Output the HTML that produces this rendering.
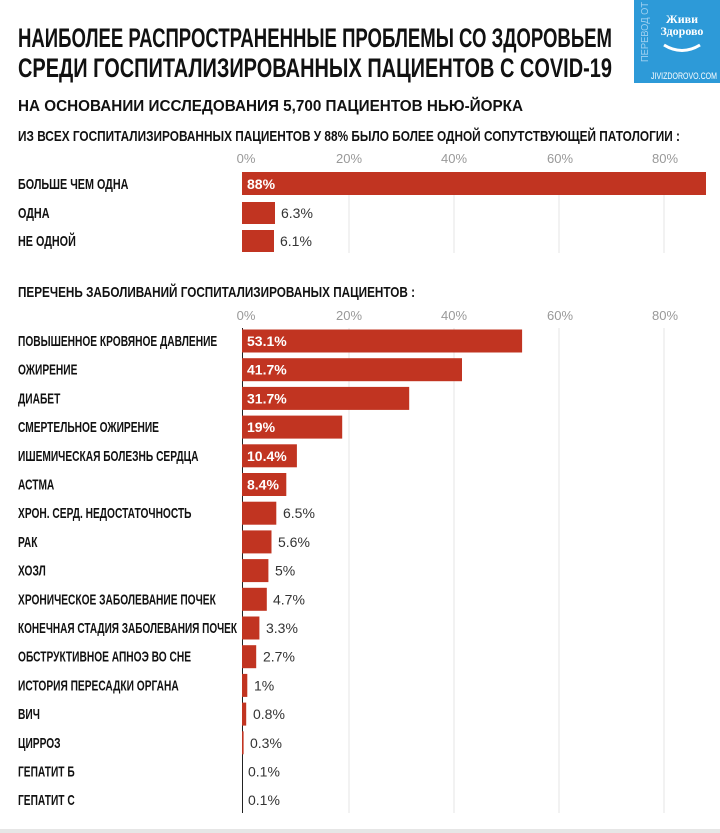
<!DOCTYPE html>
<html><head><meta charset="utf-8"><style>
html,body{margin:0;padding:0;background:#fff;width:720px;height:833px;overflow:hidden}
svg{display:block}
</style></head><body>
<svg width="720" height="833" viewBox="0 0 720 833" xmlns="http://www.w3.org/2000/svg" font-family="Liberation Sans, sans-serif">
<!-- logo -->
<rect x="634" y="0" width="86" height="83" fill="#2d9ad8"/>
<text transform="translate(648,62) rotate(-90)" font-size="10" fill="#9fd0f0" textLength="60" lengthAdjust="spacingAndGlyphs">ПЕРЕВОД ОТ</text>
<text x="682" y="23" font-size="12" font-weight="bold" fill="#fff" text-anchor="middle" font-family="Liberation Serif, serif">Живи</text>
<text x="682" y="35" font-size="12" font-weight="bold" fill="#fff" text-anchor="middle" font-family="Liberation Serif, serif">Здорово</text>
<path d="M664 45 Q682 56 700 45" stroke="#fff" stroke-width="3" fill="none"/>
<text x="651" y="79" font-size="9" fill="#fff" textLength="66" lengthAdjust="spacingAndGlyphs">JIVIZDOROVO.COM</text>

<!-- titles -->
<text x="18" y="47" font-size="27" font-weight="bold" fill="#111" textLength="594" lengthAdjust="spacingAndGlyphs">НАИБОЛЕЕ РАСПРОСТРАНЕННЫЕ ПРОБЛЕМЫ СО ЗДОРОВЬЕМ</text>
<text x="18" y="77" font-size="27" font-weight="bold" fill="#111" textLength="594" lengthAdjust="spacingAndGlyphs">СРЕДИ ГОСПИТАЛИЗИРОВАННЫХ ПАЦИЕНТОВ С COVID-19</text>
<text x="18" y="111" font-size="16" font-weight="bold" fill="#111" textLength="505" lengthAdjust="spacingAndGlyphs">НА ОСНОВАНИИ ИССЛЕДОВАНИЯ 5,700 ПАЦИЕНТОВ НЬЮ-ЙОРКА</text>
<text x="18" y="141" font-size="15" font-weight="bold" fill="#111" textLength="662" lengthAdjust="spacingAndGlyphs">ИЗ ВСЕХ ГОСПИТАЛИЗИРОВАННЫХ ПАЦИЕНТОВ У 88% БЫЛО БОЛЕЕ ОДНОЙ СОПУТСТВУЮЩЕЙ ПАТОЛОГИИ :</text>
<text x="18" y="297" font-size="15" font-weight="bold" fill="#111" textLength="397" lengthAdjust="spacingAndGlyphs">ПЕРЕЧЕНЬ ЗАБОЛИВАНИЙ ГОСПИТАЛИЗИРОВАНЫХ ПАЦИЕНТОВ :</text>

<!-- ticks -->
<g font-size="13" fill="#999" text-anchor="middle">
<text x="246" y="163">0%</text><text x="349" y="163">20%</text><text x="454" y="163">40%</text><text x="560" y="163">60%</text><text x="665" y="163">80%</text>
<text x="246" y="320">0%</text><text x="349" y="320">20%</text><text x="454" y="320">40%</text><text x="560" y="320">60%</text><text x="665" y="320">80%</text>
</g>
<!-- grid -->
<g stroke="#e4e4e4" stroke-width="1">
<line x1="349" y1="172" x2="349" y2="253"/><line x1="454" y1="172" x2="454" y2="253"/><line x1="559" y1="172" x2="559" y2="253"/><line x1="664" y1="172" x2="664" y2="253"/>
<line x1="349" y1="328" x2="349" y2="813"/><line x1="454" y1="328" x2="454" y2="813"/><line x1="559" y1="328" x2="559" y2="813"/><line x1="664" y1="328" x2="664" y2="813"/>
</g>
<line x1="242.5" y1="328" x2="242.5" y2="813" stroke="#222" stroke-width="1"/>

<!-- section 1 bars -->
<g fill="#c13421">
<rect x="242" y="172" width="464" height="23"/>
<rect x="242" y="202" width="33" height="22"/>
<rect x="242" y="230" width="32" height="22"/>
</g>
<text x="247" y="189" font-size="14" font-weight="bold" fill="#fff">88%</text>
<text x="281" y="218" font-size="14" fill="#333">6.3%</text>
<text x="280" y="246" font-size="14" fill="#333">6.1%</text>
<g transform="scale(0.72,1)" font-size="15" font-weight="bold" fill="#111">
<text x="25" y="189">БОЛЬШЕ ЧЕМ ОДНА</text>
<text x="25" y="218">ОДНА</text>
<text x="25" y="246">НЕ ОДНОЙ</text>
</g>

<!-- section 2 -->
<g fill="#c13421">
<rect x="242" y="329.5" width="280.1" height="23"/>
<rect x="242" y="358.2" width="220.0" height="23"/>
<rect x="242" y="386.9" width="167.2" height="23"/>
<rect x="242" y="415.6" width="100.2" height="23"/>
<rect x="242" y="444.3" width="54.9" height="23"/>
<rect x="242" y="473.0" width="44.3" height="23"/>
<rect x="242" y="501.7" width="34.3" height="23"/>
<rect x="242" y="530.4" width="29.5" height="23"/>
<rect x="242" y="559.1" width="26.4" height="23"/>
<rect x="242" y="587.8" width="24.8" height="23"/>
<rect x="242" y="616.5" width="17.4" height="23"/>
<rect x="242" y="645.2" width="14.2" height="23"/>
<rect x="242" y="673.9" width="5.3" height="23"/>
<rect x="242" y="702.6" width="4.2" height="23"/>
<rect x="242" y="731.3" width="1.6" height="23"/>
</g>
<g font-size="14" font-weight="bold" fill="#fff">
<text x="247" y="346">53.1%</text>
<text x="247" y="374.7">41.7%</text>
<text x="247" y="403.4">31.7%</text>
<text x="247" y="432.1">19%</text>
<text x="247" y="460.8">10.4%</text>
<text x="247" y="489.5">8.4%</text>
</g>
<g font-size="14" fill="#333">
<text x="283" y="518.2">6.5%</text>
<text x="278" y="546.9">5.6%</text>
<text x="275" y="575.6">5%</text>
<text x="273" y="604.3">4.7%</text>
<text x="266" y="633">3.3%</text>
<text x="263" y="661.7">2.7%</text>
<text x="254" y="690.4">1%</text>
<text x="253" y="719.1">0.8%</text>
<text x="250" y="747.8">0.3%</text>
<text x="248" y="776.5">0.1%</text>
<text x="248" y="805.2">0.1%</text>
</g>
<g transform="scale(0.68,1)" font-size="15" font-weight="bold" fill="#111">
<text x="26.5" y="346">ПОВЫШЕННОЕ КРОВЯНОЕ ДАВЛЕНИЕ</text>
<text x="26.5" y="374.7">ОЖИРЕНИЕ</text>
<text x="26.5" y="403.4">ДИАБЕТ</text>
<text x="26.5" y="432.1">СМЕРТЕЛЬНОЕ ОЖИРЕНИЕ</text>
<text x="26.5" y="460.8">ИШЕМИЧЕСКАЯ БОЛЕЗНЬ СЕРДЦА</text>
<text x="26.5" y="489.5">АСТМА</text>
<text x="26.5" y="518.2">ХРОН. СЕРД. НЕДОСТАТОЧНОСТЬ</text>
<text x="26.5" y="546.9">РАК</text>
<text x="26.5" y="575.6">ХОЗЛ</text>
<text x="26.5" y="604.3">ХРОНИЧЕСКОЕ ЗАБОЛЕВАНИЕ ПОЧЕК</text>
<text x="26.5" y="633" textLength="322" lengthAdjust="spacingAndGlyphs">КОНЕЧНАЯ СТАДИЯ ЗАБОЛЕВАНИЯ ПОЧЕК</text>
<text x="26.5" y="661.7">ОБСТРУКТИВНОЕ АПНОЭ ВО СНЕ</text>
<text x="26.5" y="690.4">ИСТОРИЯ ПЕРЕСАДКИ ОРГАНА</text>
<text x="26.5" y="719.1">ВИЧ</text>
<text x="26.5" y="747.8">ЦИРРОЗ</text>
<text x="26.5" y="776.5">ГЕПАТИТ Б</text>
<text x="26.5" y="805.2">ГЕПАТИТ С</text>
</g>
<rect x="0" y="829" width="720" height="4" fill="#e6e6e6"/>
</svg>
</body></html>
